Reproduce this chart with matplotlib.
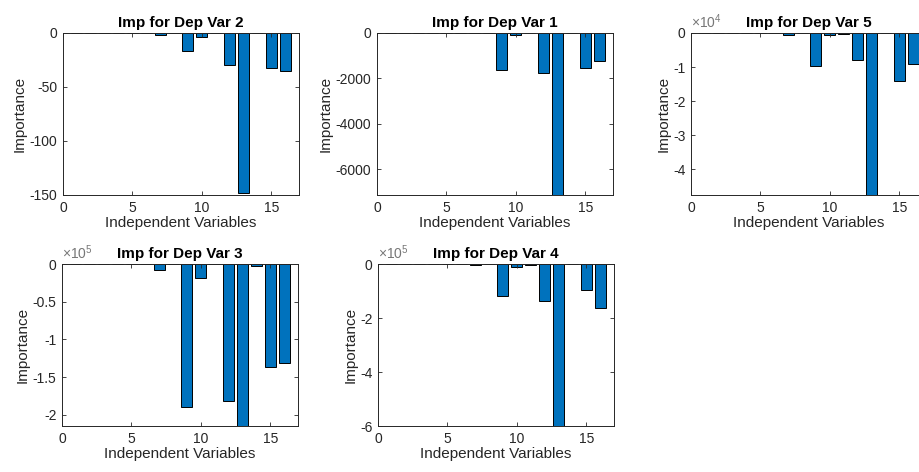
import matplotlib.pyplot as plt
from matplotlib.ticker import FuncFormatter

plt.rcParams['font.family'] = ['Liberation Sans', 'DejaVu Sans']
plt.rcParams['axes.unicode_minus'] = False
plt.rcParams['mathtext.fontset'] = 'custom'
plt.rcParams['mathtext.rm'] = 'Liberation Sans'

# independent variable indices
indep = list(range(1, 17))

# importance values per dependent variable
dep_var2 = [0, 0, 0, 0, 0, 0, -2, 0, -17, -4, 0, -30, -148, 0, -32, -35]
dep_var1 = [0, 0, 0, 0, 0, 0, 0, 0, -1641, -100, 0, -1758, -7136, 0, -1553, -1231]
dep_var5 = [0, 0, 0, 0, 0, 0, -700, 0, -9700, -700, -400, -8000, -47500, 0, -14000, -9000]
dep_var3 = [0, 0, 0, 0, 0, 0, -8000, 0, -189000, -18000, 0, -182000, -214600, -2000, -137000, -131000]
dep_var4 = [0, 0, 0, 0, 0, 0, -5000, 0, -117000, -12000, -5000, -137000, -600000, 0, -95000, -163000]

titles = ['Imp for Dep Var 2', 'Imp for Dep Var 1', 'Imp for Dep Var 5',
          'Imp for Dep Var 3', 'Imp for Dep Var 4']
series = [dep_var2, dep_var1, dep_var5, dep_var3, dep_var4]
y_bottom = [-150, -7136, -47500, -214600, -600000]
y_step = [50, 2000, 10000, 50000, 200000]
y_exp = [0, 0, 4, 5, 5]

# axes boxes in figure pixels (left, top), all the same size
boxes = [(63, 33), (377, 33), (691, 33), (62, 264), (378, 264)]
W, H = 919, 472
aw, ah = 236, 162

axis_col = '#262626'
bar_col = '#0072BD'

fig = plt.figure(figsize=(W / 100, H / 100), dpi=100)

for (lx, ty), title, vals, yb, ys, ye in zip(boxes, titles, series, y_bottom, y_step, y_exp):
    ax = fig.add_axes([lx / W, 1 - (ty + ah) / H, aw / W, ah / H])
    ax.bar(indep, vals, width=0.8, color=bar_col, edgecolor='black', linewidth=0.7)
    ax.set_xlim(0, 17)
    ax.set_ylim(yb, 0)
    ax.set_xticks([0, 5, 10, 15])
    ticks = []
    t = 0
    while t >= yb:
        ticks.append(t)
        t -= ys
    ax.set_yticks(ticks)
    ax.yaxis.set_major_formatter(FuncFormatter(lambda v, p, e=ye: f'{v / 10**e:g}'))
    ax.tick_params(direction='in', length=3, width=0.6, top=True, right=True,
                   labelsize=10, colors=axis_col, labelcolor=axis_col, pad=4)
    for s in ax.spines.values():
        s.set_color(axis_col)
        s.set_linewidth(0.7)
    ax.set_title(title, fontsize=11, fontweight='bold', color='black', pad=4)
    ax.set_xlabel('Independent Variables', fontsize=11, color=axis_col, labelpad=1)
    ax.set_ylabel('Importance', fontsize=11, color=axis_col, labelpad=2)
    if ye:
        ax.text(0.0, 1.01, r'$\times10^{%d}$' % ye, transform=ax.transAxes,
                fontsize=10, color='#777777', ha='left', va='bottom')

fig.savefig('out.png', dpi=100)
